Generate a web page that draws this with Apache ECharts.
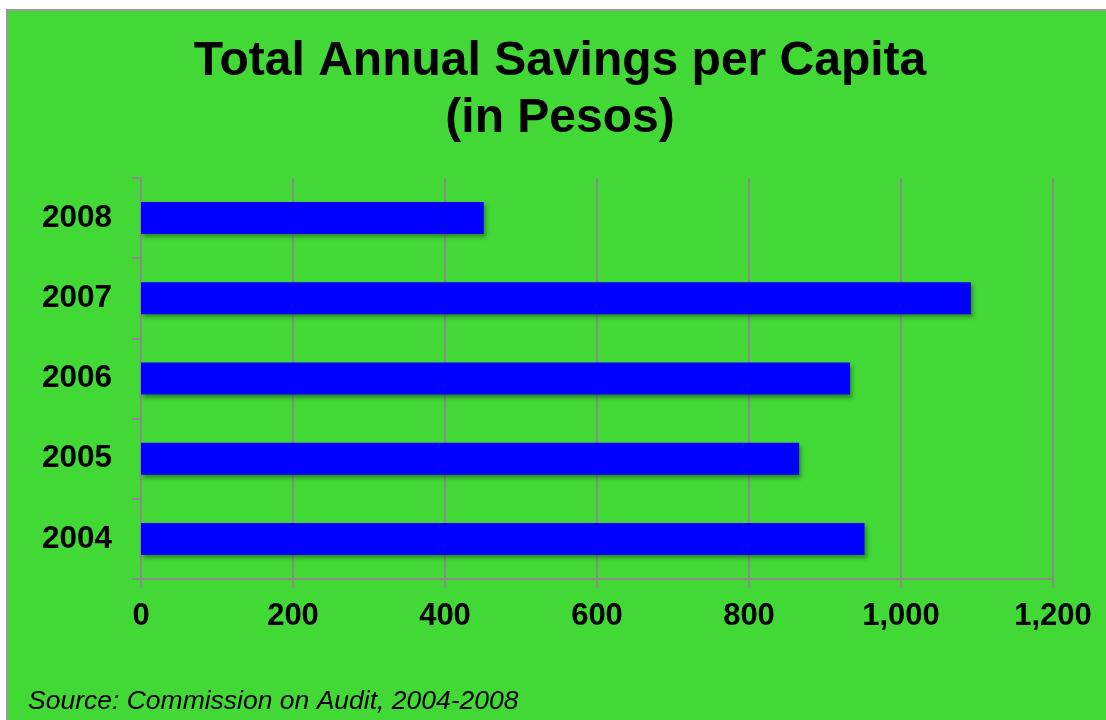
<!DOCTYPE html>
<html>
<head>
<meta charset="utf-8">
<script src="https://cdn.jsdelivr.net/npm/echarts@6/dist/echarts.min.js"></script>
<style>
  html, body { margin: 0; padding: 0; background: #ffffff; }
  #frame { position: absolute; left: 6px; top: 9px; width: 1110px; height: 720px; background: #42d836; border-left: 2px solid #999999; border-top: 2px solid #999999; }
  #chart { position: absolute; left: 0; top: 0; width: 1106px; height: 720px; }
</style>
</head>
<body>
<div id="frame"></div>
<div id="chart"></div>
<script>
const years = ['2004', '2005', '2006', '2007', '2008'];
const savings = [952, 866, 933, 1092, 451];
const xTicks = [0, 200, 400, 600, 800, 1000, 1200];
const titleText = 'Total Annual Savings per Capita\n(in Pesos)';
const sourceText = 'Source: Commission on Audit, 2004-2008';

const chart = echarts.init(document.getElementById('chart'), null, { renderer: 'canvas' });
const font = '"Liberation Sans", Arial, sans-serif';
chart.setOption({
  backgroundColor: 'transparent',
  animation: false,
  title: [
    {
      text: sourceText,
      left: 23,
      top: 683,
      textStyle: { fontFamily: font, fontSize: 26.5, fontWeight: 'normal', fontStyle: 'italic', color: '#000' }
    }
  ],
  graphic: [{
    type: 'text',
    x: 560,
    y: 33,
    style: {
      text: titleText,
      fill: '#000',
      font: 'bold 48px "Liberation Sans", Arial, sans-serif',
      align: 'center',
      verticalAlign: 'top',
      lineHeight: 57
    }
  }],
  grid: { left: 141, right: 53, top: 178, bottom: 141, containLabel: false },
  xAxis: {
    type: 'value',
    min: xTicks[0],
    max: xTicks[xTicks.length - 1],
    interval: 200,
    axisLine: { show: true, lineStyle: { color: '#8c8c8c', width: 2 } },
    axisTick: { show: true, length: 9, lineStyle: { color: '#8c8c8c', width: 2 } },
    splitLine: { show: true, lineStyle: { color: '#8c8c8c', width: 2 } },
    axisLabel: {
      margin: 22,
      fontFamily: font, fontSize: 31, fontWeight: 'bold', color: '#000',
      formatter: v => v.toLocaleString('en-US')
    }
  },
  yAxis: {
    type: 'category',
    data: years,
    axisLine: { show: true, lineStyle: { color: '#8c8c8c', width: 2 } },
    axisTick: { show: true, length: 9, lineStyle: { color: '#8c8c8c', width: 2 } },
    splitLine: { show: false },
    axisLabel: { margin: 29, fontFamily: font, fontSize: 31.5, fontWeight: 'bold', color: '#000' }
  },
  series: [{
    type: 'bar',
    data: savings,
    barWidth: 32,
    itemStyle: {
      color: '#0000ff',
      shadowColor: 'rgba(0,0,0,0.35)',
      shadowBlur: 4,
      shadowOffsetX: 2,
      shadowOffsetY: 3
    }
  }]
});
</script>
</body>
</html>
